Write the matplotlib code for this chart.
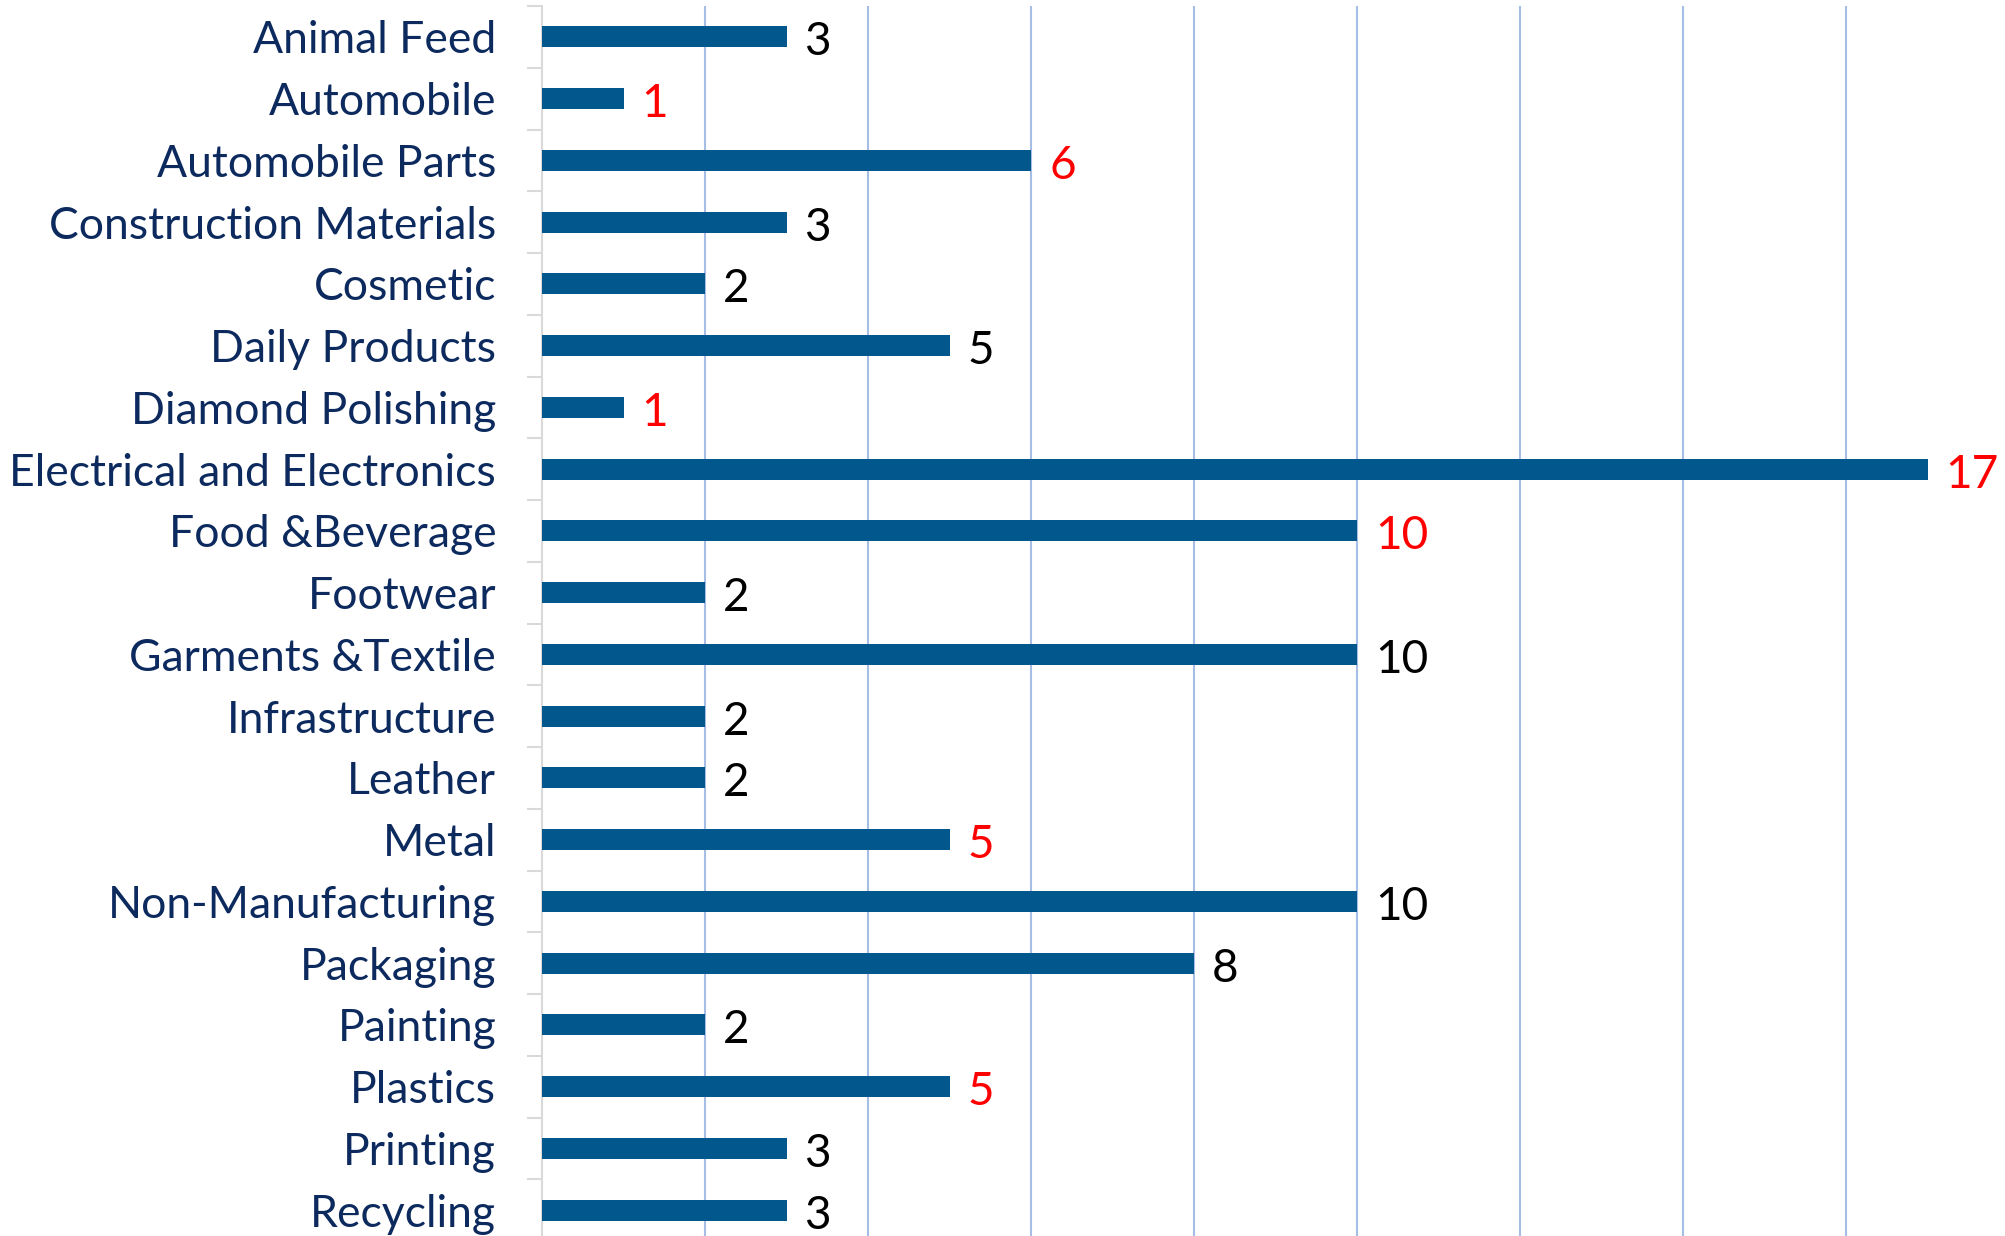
import numpy as np
import matplotlib
matplotlib.use("Agg")
import matplotlib.pyplot as plt

categories = ["Animal Feed", "Automobile", "Automobile Parts", "Construction Materials",
              "Cosmetic", "Daily Products", "Diamond Polishing", "Electrical and Electronics",
              "Food &Beverage", "Footwear", "Garments &Textile", "Infrastructure", "Leather",
              "Metal", "Non-Manufacturing", "Packaging", "Painting", "Plastics", "Printing",
              "Recycling"]
counts = [3, 1, 6, 3, 2, 5, 1, 17, 10, 2, 10, 2, 2, 5, 10, 8, 2, 5, 3, 3]
highlight = [False, True, True, False, False, False, True, True, True, False,
             False, False, False, True, False, False, False, True, False, False]

plt.rcParams['font.family'] = ['Lato', 'DejaVu Sans']

W, H = 2005, 1236
fig = plt.figure(figsize=(W / 100, H / 100), dpi=100)
fig.set_facecolor('white')
# axes placed in pixel terms
left, right = 542, 542 + 18 * 81.5
top, bottom = 6, 6 + 20 * 61.75
ax = fig.add_axes([left / W, (H - bottom) / H, (right - left) / W, (bottom - top) / H])

y = np.arange(len(categories))
ax.barh(y, counts, height=0.34, color='#02578C', zorder=3)

ax.set_xlim(0, 18)
ax.set_ylim(len(categories) - 0.5, -0.5)

ax.set_xticks(np.arange(2, 18, 2))
ax.xaxis.grid(True, color='#A6BDE6', linewidth=1.5, zorder=0)
ax.tick_params(axis='x', length=0, labelbottom=False)

ax.set_yticks(y)
ax.set_yticklabels(categories, fontsize=32, color='#0D2A5E')
ax.set_yticks(np.arange(-0.5, len(categories), 1), minor=True)
ax.tick_params(axis='y', which='major', length=0, pad=33)
ax.tick_params(axis='y', which='minor', length=11, width=1.5, color='#D9D9D9')

for s in ['top', 'right', 'bottom']:
    ax.spines[s].set_visible(False)
ax.spines['left'].set_color('#D9D9D9')
ax.spines['left'].set_linewidth(1.5)

for yi, v, hl in zip(y, counts, highlight):
    ax.annotate(str(v), xy=(v, yi), xytext=(13, -4), textcoords='offset points',
                va='center', ha='left', fontsize=33,
                color='#FF0000' if hl else 'black', annotation_clip=False)

fig.savefig('out.png', dpi=100, facecolor='white')
